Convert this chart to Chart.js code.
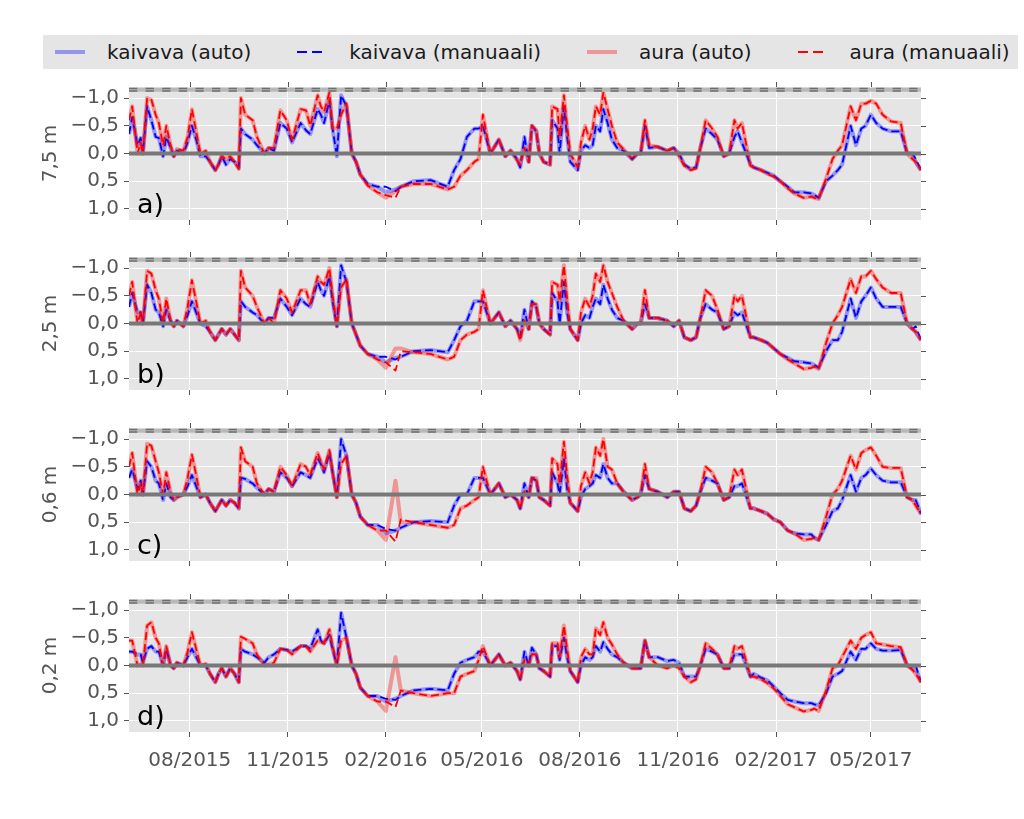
<!DOCTYPE html>
<html>
<head>
<meta charset="utf-8">
<script src="https://cdn.jsdelivr.net/npm/chart.js@4.4.1/dist/chart.umd.min.js"></script>
<style>
  body { margin: 0; background: #fff; width: 1024px; height: 819px; overflow: hidden; position: relative; font-family: "DejaVu Sans", sans-serif; }
  canvas.panel { position: absolute; left: 0; }
  #legend { position: absolute; left: 43px; top: 35px; width: 975px; height: 34px; background: #e5e5e5; display: flex; align-items: center; padding-left: 12px; box-sizing: border-box; }
  .item { display: flex; align-items: center; margin-right: 46px; }
  .swatch { width: 30px; margin-right: 22px; }
  .label { font-size: 20px; color: #1a1a1a; white-space: nowrap; }
</style>
</head>
<body>
<div id="legend"></div>
<canvas class="panel" id="p0" width="1024" height="167" style="top:70px"></canvas>
<canvas class="panel" id="p1" width="1024" height="167" style="top:240px"></canvas>
<canvas class="panel" id="p2" width="1024" height="167" style="top:411px"></canvas>
<canvas class="panel" id="p3" width="1024" height="210" style="top:582px"></canvas>
<script>
// measurement dates (shared by all panels)
const dates = [
  '2015-06-05','2015-06-08','2015-06-13','2015-06-16','2015-06-18','2015-06-22','2015-06-26','2015-06-30','2015-07-03','2015-07-07',
  '2015-07-10','2015-07-14','2015-07-17','2015-07-20','2015-07-26','2015-07-30','2015-08-03','2015-08-07','2015-08-11','2015-08-16',
  '2015-08-20','2015-08-25','2015-08-28','2015-08-31','2015-09-04','2015-09-08','2015-09-12','2015-09-16','2015-09-18','2015-09-22',
  '2015-09-29','2015-10-03','2015-10-10','2015-10-14','2015-10-19','2015-10-25','2015-10-31','2015-11-05','2015-11-13','2015-11-18',
  '2015-11-22','2015-11-29','2015-12-02','2015-12-05','2015-12-10','2015-12-13','2015-12-17','2015-12-21','2015-12-26','2015-12-31',
  '2016-01-04','2016-01-08','2016-01-15','2016-01-24','2016-02-01','2016-02-10','2016-02-15','2016-02-27','2016-03-14','2016-03-30',
  '2016-04-05','2016-04-11','2016-04-17','2016-04-24','2016-04-28','2016-05-02','2016-05-09','2016-05-17','2016-05-23','2016-05-28',
  '2016-06-03','2016-06-06','2016-06-10','2016-06-14','2016-06-17','2016-06-21','2016-06-24','2016-06-28','2016-07-04','2016-07-06',
  '2016-07-11','2016-07-13','2016-07-17','2016-07-20','2016-07-23','2016-07-30','2016-08-02','2016-08-06','2016-08-10','2016-08-13',
  '2016-08-16','2016-08-20','2016-08-23','2016-08-27','2016-08-31','2016-09-05','2016-09-11','2016-09-19','2016-09-24','2016-09-27',
  '2016-10-01','2016-10-05','2016-10-13','2016-10-22','2016-10-28','2016-11-02','2016-11-07','2016-11-13','2016-11-18','2016-11-22',
  '2016-11-27','2016-12-03','2016-12-08','2016-12-14','2016-12-19','2016-12-24','2016-12-27','2016-12-31','2017-01-08','2017-01-11',
  '2017-01-18','2017-01-24','2017-01-30','2017-02-05','2017-02-12','2017-02-18','2017-02-27','2017-03-06','2017-03-09','2017-03-13',
  '2017-03-20','2017-03-26','2017-03-31','2017-04-04','2017-04-12','2017-04-17','2017-04-22','2017-04-26','2017-05-01','2017-05-06',
  '2017-05-12','2017-05-20','2017-05-29','2017-06-04','2017-06-09','2017-06-12','2017-06-17'
];

const tickDates = ['2015-08-01','2015-11-01','2016-02-01','2016-05-01','2016-08-01','2016-11-01','2017-02-01','2017-05-01'];
const tickLabels = ['08/2015','11/2015','02/2016','05/2016','08/2016','11/2016','02/2017','05/2017'];
const yTicks = [-1, -0.5, 0, 0.5, 1];
const yTickLabels = ['\u22121,0', '\u22120,5', '0,0', '0,5', '1,0'];
const zeroLevel = 0;
const limitLevel = -1.15;

const seriesNames = ['kaivava (auto)', 'kaivava (manuaali)', 'aura (auto)', 'aura (manuaali)'];
const depthLabels = ['7,5 m', '2,5 m', '0,6 m', '0,2 m'];
const panelTags = ['a)', 'b)', 'c)', 'd)'];

// panel a) 7,5 m
const a_kaivavaAuto = [
  -0.35,-0.65,-0.15,-0.28,0.0,-0.85,-0.6,-0.3,-0.28,0.05,
  -0.3,-0.1,0.05,-0.05,0.0,-0.2,-0.5,-0.25,0.05,0.05,
  0.15,0.3,0.2,0.05,0.2,0.1,0.15,0.25,-0.45,-0.35,
  -0.25,-0.15,0.0,-0.1,-0.05,-0.55,-0.45,-0.2,-0.55,-0.42,
  -0.35,-0.8,-0.7,-0.55,-0.95,-0.45,0.05,-1.05,-0.85,0.0,
  0.15,0.38,0.55,0.6,0.7,0.65,0.6,0.5,0.48,0.6,
  0.3,0.1,-0.3,-0.45,-0.45,-0.5,0.0,-0.25,0.05,-0.05,
  0.1,0.25,-0.3,0.15,-0.5,-0.4,0.0,0.15,0.2,-0.6,
  -0.45,0.0,-0.85,-0.3,0.15,0.3,-0.05,-0.15,-0.1,-0.15,
  -0.5,-0.4,-0.8,-0.55,-0.25,-0.1,-0.05,0.1,0.0,0.0,
  -0.5,-0.1,-0.12,-0.05,-0.1,0.0,0.2,0.28,0.25,-0.1,
  -0.45,-0.35,-0.25,0.05,0.0,-0.3,-0.4,-0.2,0.2,0.25,
  0.3,0.35,0.4,0.5,0.6,0.7,0.7,0.72,0.75,0.8,
  0.5,0.4,0.3,0.2,-0.5,-0.15,-0.45,-0.5,-0.7,-0.55,
  -0.45,-0.4,-0.4,0.0,0.0,0.15,0.3
];
const a_kaivavaMan = [
  -0.35,-0.65,-0.15,-0.28,0.0,-0.85,-0.6,-0.3,-0.28,0.05,
  -0.3,-0.1,0.05,-0.05,0.0,-0.2,-0.5,-0.25,0.05,0.05,
  0.15,0.3,0.2,0.05,0.2,0.1,0.15,0.25,-0.45,-0.35,
  -0.25,-0.15,0.0,-0.1,-0.05,-0.55,-0.45,-0.2,-0.55,-0.42,
  -0.35,-0.8,-0.7,-0.55,-0.95,-0.45,0.05,-1.05,-0.85,0.0,
  0.15,0.38,0.55,0.6,0.6,0.68,0.6,0.5,0.48,0.6,
  0.3,0.1,-0.3,-0.45,-0.45,-0.5,0.0,-0.25,0.05,-0.05,
  0.1,0.25,-0.3,0.15,-0.5,-0.4,0.0,0.15,0.2,-0.6,
  -0.45,0.0,-0.85,-0.3,0.15,0.3,-0.05,-0.15,-0.1,-0.15,
  -0.5,-0.4,-0.8,-0.55,-0.25,-0.1,-0.05,0.1,0.0,0.0,
  -0.5,-0.1,-0.12,-0.05,-0.1,0.0,0.2,0.28,0.25,-0.1,
  -0.45,-0.35,-0.25,0.05,0.0,-0.3,-0.4,-0.2,0.2,0.25,
  0.3,0.35,0.4,0.5,0.6,0.7,0.7,0.72,0.75,0.8,
  0.5,0.4,0.3,0.2,-0.5,-0.15,-0.45,-0.5,-0.7,-0.55,
  -0.45,-0.4,-0.4,0.0,0.0,0.1,0.3
];
const a_auraAuto = [
  -0.6,-0.85,0.0,-0.2,0.0,-1.0,-0.97,-0.7,-0.55,-0.15,
  -0.5,-0.15,0.05,-0.08,-0.05,-0.3,-0.8,-0.4,0.0,-0.05,
  0.15,0.3,0.2,0.05,0.1,0.05,0.15,0.28,-1.0,-0.7,
  -0.6,-0.3,0.0,-0.1,-0.1,-0.78,-0.6,-0.25,-0.8,-0.78,
  -0.5,-1.05,-0.85,-0.75,-1.1,-0.45,-0.45,-0.7,-0.9,0.0,
  0.15,0.38,0.58,0.7,0.8,0.68,0.6,0.55,0.55,0.65,
  0.6,0.4,0.3,0.15,0.1,-0.7,0.0,-0.25,0.05,-0.05,
  0.12,0.2,-0.1,0.15,-0.5,-0.42,0.0,0.15,0.2,-0.85,
  -0.8,-0.3,-1.05,-0.5,0.0,0.25,-0.2,-0.5,-0.25,-0.45,
  -0.85,-0.7,-1.1,-0.8,-0.5,-0.2,-0.08,0.1,0.0,0.0,
  -0.6,-0.15,-0.12,-0.05,-0.1,0.05,0.22,0.3,0.27,-0.1,
  -0.6,-0.45,-0.3,0.05,0.0,-0.6,-0.45,-0.55,0.22,0.25,
  0.3,0.37,0.42,0.5,0.63,0.72,0.8,0.78,0.8,0.82,
  0.45,0.1,-0.05,-0.15,-0.85,-0.6,-0.9,-0.9,-0.95,-0.9,
  -0.7,-0.58,-0.55,0.0,0.1,0.15,0.3
];
const a_auraMan = [
  -0.6,-0.85,0.0,-0.2,0.0,-1.0,-0.97,-0.7,-0.55,-0.15,
  -0.5,-0.15,0.05,-0.08,-0.05,-0.3,-0.8,-0.4,0.0,-0.05,
  0.15,0.3,0.2,0.05,0.1,0.05,0.15,0.28,-1.0,-0.7,
  -0.6,-0.3,0.0,-0.1,-0.1,-0.78,-0.6,-0.25,-0.8,-0.78,
  -0.5,-1.05,-0.85,-0.75,-1.1,-0.45,-0.45,-0.7,-0.9,0.0,
  0.15,0.38,0.58,0.7,0.75,0.8,0.6,0.55,0.55,0.65,
  0.6,0.4,0.3,0.15,0.1,-0.7,0.0,-0.25,0.05,-0.05,
  0.12,0.2,-0.1,0.15,-0.5,-0.42,0.0,0.15,0.2,-0.85,
  -0.8,-0.3,-1.05,-0.5,0.0,0.25,-0.2,-0.5,-0.25,-0.45,
  -0.85,-0.7,-1.1,-0.8,-0.5,-0.2,-0.08,0.1,0.0,0.0,
  -0.6,-0.15,-0.12,-0.05,-0.1,0.05,0.22,0.3,0.27,-0.1,
  -0.6,-0.45,-0.3,0.05,0.0,-0.6,-0.45,-0.55,0.22,0.25,
  0.3,0.37,0.42,0.5,0.63,0.72,0.8,0.78,0.8,0.82,
  0.45,0.1,-0.05,-0.15,-0.85,-0.6,-0.9,-0.9,-0.95,-0.9,
  -0.7,-0.58,-0.55,0.0,0.1,0.15,0.3
];

// panel b) 2,5 m
const b_kaivavaAuto = [
  -0.3,-0.55,-0.2,-0.2,0.0,-0.7,-0.55,-0.25,-0.2,0.05,
  -0.25,-0.05,0.05,-0.05,0.05,-0.15,-0.4,-0.2,0.0,0.05,
  0.15,0.3,0.2,0.1,0.2,0.1,0.2,0.3,-0.4,-0.3,
  -0.2,-0.15,0.0,-0.1,-0.1,-0.45,-0.3,-0.15,-0.45,-0.35,
  -0.3,-0.75,-0.6,-0.5,-0.85,-0.4,0.05,-1.05,-0.75,0.0,
  0.2,0.4,0.55,0.6,0.7,0.62,0.6,0.5,0.48,0.52,
  0.3,0.05,-0.05,-0.4,-0.4,-0.4,0.0,-0.2,0.05,-0.05,
  0.1,0.25,-0.25,0.1,-0.4,-0.3,0.0,0.1,0.2,-0.55,
  -0.4,0.0,-0.75,-0.2,0.1,0.3,0.0,-0.15,-0.1,-0.3,
  -0.45,-0.35,-0.7,-0.45,-0.25,-0.1,-0.05,0.1,0.0,0.0,
  -0.35,-0.1,-0.1,-0.05,0.05,-0.05,0.25,0.3,0.25,-0.1,
  -0.35,-0.25,-0.2,0.1,0.05,-0.2,-0.15,-0.2,0.25,0.25,
  0.3,0.35,0.45,0.55,0.62,0.68,0.7,0.72,0.75,0.8,
  0.5,0.3,0.3,0.15,-0.45,-0.1,-0.4,-0.5,-0.65,-0.45,
  -0.3,-0.3,-0.3,0.0,0.1,0.15,0.3
];
const b_kaivavaMan = [
  -0.3,-0.55,-0.2,-0.2,0.0,-0.7,-0.55,-0.25,-0.2,0.05,
  -0.25,-0.05,0.05,-0.05,0.05,-0.15,-0.4,-0.2,0.0,0.05,
  0.15,0.3,0.2,0.1,0.2,0.1,0.2,0.3,-0.4,-0.3,
  -0.2,-0.15,0.0,-0.1,-0.1,-0.45,-0.3,-0.15,-0.45,-0.35,
  -0.3,-0.75,-0.6,-0.5,-0.85,-0.4,0.05,-1.05,-0.75,0.0,
  0.2,0.4,0.55,0.6,0.6,0.65,0.6,0.5,0.48,0.52,
  0.3,0.05,-0.05,-0.4,-0.4,-0.4,0.0,-0.2,0.05,-0.05,
  0.1,0.25,-0.25,0.1,-0.4,-0.3,0.0,0.1,0.2,-0.55,
  -0.4,0.0,-0.75,-0.2,0.1,0.3,0.0,-0.15,-0.1,-0.3,
  -0.45,-0.35,-0.7,-0.45,-0.25,-0.1,-0.05,0.1,0.0,0.0,
  -0.35,-0.1,-0.1,-0.05,0.05,-0.05,0.25,0.3,0.25,-0.1,
  -0.35,-0.25,-0.2,0.1,0.05,-0.2,-0.15,-0.2,0.25,0.25,
  0.3,0.35,0.45,0.55,0.62,0.68,0.7,0.72,0.75,0.8,
  0.5,0.3,0.3,0.15,-0.45,-0.1,-0.4,-0.5,-0.65,-0.45,
  -0.3,-0.3,-0.3,0.0,0.1,0.05,0.3
];
const b_auraAuto = [
  -0.5,-0.75,0.0,-0.2,0.0,-0.95,-0.9,-0.6,-0.45,0.0,
  -0.45,-0.05,0.05,-0.05,0.05,-0.3,-0.78,-0.4,0.0,-0.05,
  0.15,0.3,0.2,0.1,0.2,0.1,0.2,0.3,-0.95,-0.65,
  -0.5,-0.3,0.0,-0.1,0.0,-0.6,-0.45,-0.2,-0.6,-0.6,
  -0.35,-0.85,-0.75,-0.7,-1.0,-0.5,0.05,-0.65,-0.8,0.0,
  0.2,0.4,0.55,0.65,0.8,0.45,0.45,0.52,0.55,0.65,
  0.6,0.3,0.2,0.15,0.1,-0.6,0.0,-0.2,0.05,-0.05,
  0.1,0.3,-0.05,0.1,-0.35,-0.35,0.0,0.1,0.2,-0.75,
  -0.7,-0.4,-1.05,-0.45,0.1,0.3,-0.2,-0.45,-0.3,-0.5,
  -0.9,-0.75,-1.05,-0.75,-0.55,-0.3,-0.05,0.1,0.0,0.0,
  -0.6,-0.1,-0.1,-0.05,0.05,-0.05,0.25,0.3,0.25,-0.1,
  -0.6,-0.5,-0.25,0.1,0.05,-0.5,-0.4,-0.5,0.25,0.25,
  0.3,0.35,0.45,0.55,0.65,0.72,0.82,0.8,0.78,0.82,
  0.35,0.0,-0.15,-0.3,-0.8,-0.55,-0.85,-0.85,-0.95,-0.8,
  -0.65,-0.55,-0.55,0.0,0.1,0.15,0.3
];
const b_auraMan = [
  -0.5,-0.75,0.0,-0.2,0.0,-0.95,-0.9,-0.6,-0.45,0.0,
  -0.45,-0.05,0.05,-0.05,0.05,-0.3,-0.78,-0.4,0.0,-0.05,
  0.15,0.3,0.2,0.1,0.2,0.1,0.2,0.3,-0.95,-0.65,
  -0.5,-0.3,0.0,-0.1,0.0,-0.6,-0.45,-0.2,-0.6,-0.6,
  -0.35,-0.85,-0.75,-0.7,-1.0,-0.5,0.05,-0.65,-0.8,0.0,
  0.2,0.4,0.55,0.65,0.7,0.85,0.5,0.52,0.55,0.65,
  0.6,0.3,0.2,0.15,0.1,-0.6,0.0,-0.2,0.05,-0.05,
  0.1,0.3,-0.05,0.1,-0.35,-0.35,0.0,0.1,0.2,-0.75,
  -0.7,-0.4,-1.05,-0.45,0.1,0.3,-0.2,-0.45,-0.3,-0.5,
  -0.9,-0.75,-1.05,-0.75,-0.55,-0.3,-0.05,0.1,0.0,0.0,
  -0.6,-0.1,-0.1,-0.05,0.05,-0.05,0.25,0.3,0.25,-0.1,
  -0.6,-0.5,-0.25,0.1,0.05,-0.5,-0.4,-0.5,0.25,0.25,
  0.3,0.35,0.45,0.55,0.65,0.72,0.82,0.8,0.78,0.82,
  0.35,0.0,-0.15,-0.3,-0.8,-0.55,-0.85,-0.85,-0.95,-0.8,
  -0.65,-0.55,-0.55,0.0,0.1,0.15,0.3
];

// panel c) 0,6 m
const c_kaivavaAuto = [
  -0.3,-0.45,-0.1,-0.25,0.0,-0.6,-0.5,-0.25,-0.2,0.1,
  -0.2,0.05,0.1,0.05,0.0,-0.15,-0.35,-0.15,0.05,0.0,
  0.15,0.3,0.2,0.1,0.2,0.1,0.15,0.25,-0.3,-0.28,
  -0.2,-0.12,0.0,-0.1,-0.05,-0.4,-0.3,-0.15,-0.4,-0.35,
  -0.3,-0.65,-0.55,-0.4,-0.75,-0.4,0.05,-1.0,-0.7,0.0,
  0.15,0.4,0.55,0.55,0.7,0.65,0.6,0.5,0.48,0.5,
  0.2,0.0,0.0,-0.3,-0.3,-0.3,0.0,-0.2,0.05,0.0,
  0.1,0.25,-0.2,0.05,-0.3,-0.25,0.05,0.1,0.2,-0.4,
  -0.2,0.0,-0.65,-0.1,0.15,0.3,0.05,-0.1,-0.15,-0.2,
  -0.35,-0.3,-0.55,-0.3,-0.2,-0.2,-0.05,0.1,0.05,0.0,
  -0.35,-0.1,-0.05,0.05,-0.05,-0.05,0.25,0.3,0.2,-0.05,
  -0.3,-0.25,-0.2,0.1,0.05,-0.15,-0.15,-0.2,0.25,0.25,
  0.3,0.35,0.45,0.5,0.65,0.7,0.72,0.72,0.78,0.82,
  0.55,0.3,0.25,0.1,-0.35,-0.05,-0.3,-0.35,-0.47,-0.35,
  -0.25,-0.22,-0.22,0.05,0.1,0.1,0.35
];
const c_kaivavaMan = [
  -0.3,-0.45,-0.1,-0.25,0.0,-0.6,-0.5,-0.25,-0.2,0.1,
  -0.2,0.05,0.1,0.05,0.0,-0.15,-0.35,-0.15,0.05,0.0,
  0.15,0.3,0.2,0.1,0.2,0.1,0.15,0.25,-0.3,-0.28,
  -0.2,-0.12,0.0,-0.1,-0.05,-0.4,-0.3,-0.15,-0.4,-0.35,
  -0.3,-0.65,-0.55,-0.4,-0.75,-0.4,0.05,-1.0,-0.7,0.0,
  0.15,0.4,0.55,0.55,0.62,0.65,0.6,0.5,0.48,0.5,
  0.2,0.0,0.0,-0.3,-0.3,-0.3,0.0,-0.2,0.05,0.0,
  0.1,0.25,-0.2,0.05,-0.3,-0.25,0.05,0.1,0.2,-0.4,
  -0.2,0.0,-0.65,-0.1,0.15,0.3,0.05,-0.1,-0.15,-0.2,
  -0.35,-0.3,-0.55,-0.3,-0.2,-0.2,-0.05,0.1,0.05,0.0,
  -0.35,-0.1,-0.05,0.05,-0.05,-0.05,0.25,0.3,0.2,-0.05,
  -0.3,-0.25,-0.2,0.1,0.05,-0.15,-0.15,-0.2,0.25,0.25,
  0.3,0.35,0.45,0.5,0.65,0.7,0.72,0.72,0.78,0.82,
  0.55,0.3,0.25,0.1,-0.35,-0.05,-0.3,-0.35,-0.47,-0.35,
  -0.25,-0.22,-0.22,0.05,0.1,0.1,0.35
];
const c_auraAuto = [
  -0.5,-0.75,0.0,-0.2,0.0,-0.92,-0.88,-0.6,-0.4,0.0,
  -0.4,-0.05,0.1,0.05,0.0,-0.3,-0.72,-0.35,0.05,0.0,
  0.15,0.3,0.2,0.1,0.2,0.1,0.15,0.25,-0.85,-0.6,
  -0.5,-0.2,0.0,-0.1,-0.05,-0.5,-0.35,-0.15,-0.55,-0.5,
  -0.35,-0.75,-0.6,-0.45,-0.8,-0.4,0.05,-0.55,-0.7,0.0,
  0.15,0.4,0.55,0.65,0.82,-0.25,0.5,0.5,0.55,0.6,
  0.55,0.25,0.2,0.1,0.05,-0.5,0.0,-0.2,0.05,0.0,
  0.1,0.25,-0.05,0.05,-0.3,-0.3,0.05,0.1,0.2,-0.65,
  -0.55,-0.2,-0.95,-0.35,0.15,0.3,-0.15,-0.4,-0.2,-0.4,
  -0.85,-0.7,-1.0,-0.5,-0.45,-0.2,-0.05,0.1,0.05,0.0,
  -0.55,-0.1,-0.05,0.05,-0.05,-0.05,0.25,0.3,0.2,-0.05,
  -0.5,-0.4,-0.2,0.1,0.05,-0.45,-0.35,-0.45,0.25,0.25,
  0.3,0.35,0.45,0.5,0.65,0.7,0.82,0.8,0.78,0.82,
  0.4,0.0,-0.1,-0.25,-0.7,-0.45,-0.75,-0.8,-0.85,-0.7,
  -0.5,-0.48,-0.48,0.05,0.1,0.2,0.35
];
const c_auraMan = [
  -0.5,-0.75,0.0,-0.2,0.0,-0.92,-0.88,-0.6,-0.4,0.0,
  -0.4,-0.05,0.1,0.05,0.0,-0.3,-0.72,-0.35,0.05,0.0,
  0.15,0.3,0.2,0.1,0.2,0.1,0.15,0.25,-0.85,-0.6,
  -0.5,-0.2,0.0,-0.1,-0.05,-0.5,-0.35,-0.15,-0.55,-0.5,
  -0.35,-0.75,-0.6,-0.45,-0.8,-0.4,0.05,-0.55,-0.7,0.0,
  0.15,0.4,0.55,0.65,0.65,0.85,0.45,0.5,0.55,0.6,
  0.55,0.25,0.2,0.1,0.05,-0.5,0.0,-0.2,0.05,0.0,
  0.1,0.25,-0.05,0.05,-0.3,-0.3,0.05,0.1,0.2,-0.65,
  -0.55,-0.2,-0.95,-0.35,0.15,0.3,-0.15,-0.4,-0.2,-0.4,
  -0.85,-0.7,-1.0,-0.5,-0.45,-0.2,-0.05,0.1,0.05,0.0,
  -0.55,-0.1,-0.05,0.05,-0.05,-0.05,0.25,0.3,0.2,-0.05,
  -0.5,-0.4,-0.2,0.1,0.05,-0.45,-0.35,-0.45,0.25,0.25,
  0.3,0.35,0.45,0.5,0.65,0.7,0.82,0.8,0.78,0.82,
  0.4,0.0,-0.1,-0.25,-0.7,-0.45,-0.75,-0.8,-0.85,-0.7,
  -0.5,-0.48,-0.48,0.05,0.1,0.2,0.35
];

// panel d) 0,2 m
const d_kaivavaAuto = [
  -0.25,-0.25,-0.2,-0.2,-0.05,-0.3,-0.35,-0.25,-0.25,0.0,
  -0.3,0.0,0.05,-0.05,0.0,-0.15,-0.3,-0.15,0.0,0.0,
  0.15,0.3,0.15,0.05,0.2,0.05,0.15,0.3,-0.3,-0.25,
  -0.2,-0.15,-0.05,-0.15,-0.2,-0.3,-0.28,-0.25,-0.35,-0.35,
  -0.3,-0.65,-0.45,-0.4,-0.55,-0.3,0.0,-0.95,-0.5,0.0,
  0.15,0.4,0.55,0.55,0.65,0.6,0.55,0.45,0.42,0.45,
  0.15,-0.05,-0.1,-0.15,-0.25,-0.25,0.0,-0.2,0.0,-0.05,
  0.1,0.25,-0.25,0.0,-0.32,-0.2,0.05,0.1,0.2,-0.35,
  -0.35,-0.1,-0.5,-0.15,0.1,0.3,0.0,-0.15,-0.1,-0.15,
  -0.35,-0.25,-0.42,-0.3,-0.2,-0.15,-0.05,0.05,0.05,0.05,
  -0.45,-0.15,-0.15,-0.08,-0.1,-0.05,0.2,0.2,0.2,0.0,
  -0.3,-0.25,-0.2,0.05,0.05,-0.2,-0.2,-0.2,0.2,0.15,
  0.22,0.27,0.38,0.5,0.62,0.65,0.68,0.68,0.7,0.72,
  0.5,0.2,0.15,0.1,-0.25,-0.1,-0.3,-0.3,-0.4,-0.3,
  -0.27,-0.27,-0.28,0.0,0.05,0.05,0.3
];
const d_kaivavaMan = [
  -0.25,-0.25,-0.2,-0.2,-0.05,-0.3,-0.35,-0.25,-0.25,0.0,
  -0.3,0.0,0.05,-0.05,0.0,-0.15,-0.3,-0.15,0.0,0.0,
  0.15,0.3,0.15,0.05,0.2,0.05,0.15,0.3,-0.3,-0.25,
  -0.2,-0.15,-0.05,-0.15,-0.2,-0.3,-0.28,-0.25,-0.35,-0.35,
  -0.3,-0.65,-0.45,-0.4,-0.55,-0.3,0.0,-0.95,-0.5,0.0,
  0.15,0.4,0.55,0.55,0.6,0.62,0.55,0.45,0.42,0.45,
  0.15,-0.05,-0.1,-0.15,-0.25,-0.25,0.0,-0.2,0.0,-0.05,
  0.1,0.25,-0.25,0.0,-0.32,-0.2,0.05,0.1,0.2,-0.35,
  -0.35,-0.1,-0.5,-0.15,0.1,0.3,0.0,-0.15,-0.1,-0.15,
  -0.35,-0.25,-0.42,-0.3,-0.2,-0.15,-0.05,0.05,0.05,0.05,
  -0.45,-0.15,-0.15,-0.08,-0.1,-0.05,0.2,0.2,0.2,0.0,
  -0.3,-0.25,-0.2,0.05,0.05,-0.2,-0.2,-0.2,0.2,0.15,
  0.22,0.27,0.38,0.5,0.62,0.65,0.68,0.68,0.7,0.72,
  0.5,0.2,0.15,0.1,-0.25,-0.1,-0.3,-0.3,-0.4,-0.3,
  -0.27,-0.27,-0.28,0.0,0.05,0.0,0.3
];
const d_auraAuto = [
  -0.45,-0.45,0.0,-0.02,0.0,-0.72,-0.78,-0.5,-0.4,0.0,
  -0.35,0.0,0.05,-0.05,0.0,-0.25,-0.6,-0.3,0.0,-0.03,
  0.15,0.3,0.15,0.05,0.2,0.05,0.15,0.3,-0.52,-0.48,
  -0.4,-0.2,0.0,-0.02,-0.05,-0.3,-0.28,-0.2,-0.35,-0.35,
  -0.25,-0.45,-0.42,-0.4,-0.65,-0.35,0.0,-0.45,-0.5,0.0,
  0.15,0.4,0.55,0.65,0.82,-0.15,0.45,0.5,0.55,0.5,
  0.5,0.2,0.15,0.1,-0.1,-0.35,0.0,-0.2,0.0,-0.05,
  0.1,0.25,-0.1,0.0,-0.2,-0.2,0.05,0.1,0.2,-0.4,
  -0.4,-0.15,-0.72,-0.3,0.1,0.3,-0.15,-0.3,-0.2,-0.2,
  -0.67,-0.55,-0.78,-0.5,-0.38,-0.2,-0.05,0.05,0.05,0.05,
  -0.45,-0.15,0.0,0.05,0.0,0.05,0.2,0.3,0.25,0.0,
  -0.4,-0.3,-0.2,0.05,0.05,-0.35,-0.3,-0.35,0.2,0.2,
  0.25,0.32,0.42,0.55,0.7,0.75,0.83,0.8,0.78,0.82,
  0.45,0.05,0.0,-0.15,-0.45,-0.3,-0.5,-0.55,-0.6,-0.4,
  -0.38,-0.35,-0.33,0.0,0.08,0.15,0.3
];
const d_auraMan = [
  -0.45,-0.45,0.0,-0.02,0.0,-0.72,-0.78,-0.5,-0.4,0.0,
  -0.35,0.0,0.05,-0.05,0.0,-0.25,-0.6,-0.3,0.0,-0.03,
  0.15,0.3,0.15,0.05,0.2,0.05,0.15,0.3,-0.52,-0.48,
  -0.4,-0.2,0.0,-0.02,-0.05,-0.3,-0.28,-0.2,-0.35,-0.35,
  -0.25,-0.45,-0.42,-0.4,-0.65,-0.35,0.0,-0.45,-0.5,0.0,
  0.15,0.4,0.55,0.65,0.65,0.75,0.45,0.5,0.55,0.5,
  0.5,0.2,0.15,0.1,-0.1,-0.35,0.0,-0.2,0.0,-0.05,
  0.1,0.25,-0.1,0.0,-0.2,-0.2,0.05,0.1,0.2,-0.4,
  -0.4,-0.15,-0.72,-0.3,0.1,0.3,-0.15,-0.3,-0.2,-0.2,
  -0.67,-0.55,-0.78,-0.5,-0.38,-0.2,-0.05,0.05,0.05,0.05,
  -0.45,-0.15,0.0,0.05,0.0,0.05,0.2,0.3,0.25,0.0,
  -0.4,-0.3,-0.2,0.05,0.05,-0.35,-0.3,-0.35,0.2,0.2,
  0.25,0.32,0.42,0.55,0.7,0.75,0.83,0.8,0.78,0.82,
  0.45,0.05,0.0,-0.15,-0.45,-0.3,-0.5,-0.55,-0.6,-0.4,
  -0.38,-0.35,-0.33,0.0,0.08,0.15,0.3
];

const panelSeries = [
  [a_kaivavaAuto, a_kaivavaMan, a_auraAuto, a_auraMan],
  [b_kaivavaAuto, b_kaivavaMan, b_auraAuto, b_auraMan],
  [c_kaivavaAuto, c_kaivavaMan, c_auraAuto, c_auraMan],
  [d_kaivavaAuto, d_kaivavaMan, d_auraAuto, d_auraMan]
];

// line styles, same order as seriesNames
const styles = [
  { color: 'rgba(0,0,255,0.35)', width: 4, dash: [] },
  { color: '#0000ff', width: 1.8, dash: [8, 4] },
  { color: 'rgba(255,0,0,0.35)', width: 4, dash: [] },
  { color: '#ff0000', width: 1.8, dash: [8, 4] }
];

const FONT = '"DejaVu Sans", sans-serif';
const xs = dates.map(d => Date.parse(d));
const tickXs = tickDates.map(d => Date.parse(d));

// legend
const legend = document.getElementById('legend');
seriesNames.forEach((name, i) => {
  const st = styles[i];
  const item = document.createElement('div');
  item.className = 'item';
  const sw = document.createElement('div');
  sw.className = 'swatch';
  if (st.dash.length) {
    sw.style.height = '2px';
    sw.style.background = `repeating-linear-gradient(90deg, ${st.color} 0 10px, transparent 10px 15px)`;
  } else {
    sw.style.height = '4px';
    sw.style.background = st.color;
  }
  const lb = document.createElement('span');
  lb.className = 'label';
  lb.textContent = name;
  item.appendChild(sw);
  item.appendChild(lb);
  legend.appendChild(item);
});

function hline(ctx, x0, x1, y, color, width, dash) {
  ctx.beginPath();
  ctx.setLineDash(dash);
  ctx.strokeStyle = color;
  ctx.lineWidth = width;
  ctx.moveTo(x0, y);
  ctx.lineTo(x1, y);
  ctx.stroke();
}

// plot background, zero line, limit line, top/right ticks and panel letter
const panelDecor = {
  id: 'panelDecor',
  beforeDraw(chart) {
    const { ctx, chartArea: a } = chart;
    ctx.save();
    ctx.fillStyle = '#e5e5e5';
    ctx.fillRect(a.left, a.top, a.right - a.left, a.bottom - a.top);
    ctx.restore();
  },
  afterDatasetsDraw(chart, args, opts) {
    const { ctx, chartArea: a, scales: { x, y } } = chart;
    ctx.save();
    ctx.beginPath();
    ctx.rect(a.left, a.top, a.right - a.left, a.bottom - a.top);
    ctx.clip();
    const y0 = y.getPixelForValue(zeroLevel);
    hline(ctx, a.left, a.right, y0, '#787878', 4, []);
    const yl = y.getPixelForValue(limitLevel);
    hline(ctx, a.left, a.right, yl, '#b9b9b9', 4, []);
    hline(ctx, a.left, a.right, yl, '#6e6e6e', 4, [8.3, 8.3]);
    hline(ctx, a.left, a.right, yl, '#b9b9b9', 1, []);
    ctx.restore();

    ctx.save();
    ctx.strokeStyle = '#555';
    ctx.lineWidth = 1;
    ctx.beginPath();
    x.ticks.forEach(t => {
      const px = Math.round(x.getPixelForValue(t.value)) + 0.5;
      ctx.moveTo(px, a.top);
      ctx.lineTo(px, a.top - 5);
    });
    y.ticks.forEach(t => {
      const py = Math.round(y.getPixelForValue(t.value)) + 0.5;
      ctx.moveTo(a.right, py);
      ctx.lineTo(a.right + 5, py);
    });
    ctx.stroke();

    ctx.fillStyle = '#000';
    ctx.font = '27px ' + FONT;
    ctx.textBaseline = 'alphabetic';
    ctx.fillText(opts.tag, a.left + 8, a.bottom - 7);
    ctx.restore();
  }
};

panelSeries.forEach((series, p) => {
  const last = p === panelSeries.length - 1;
  const datasets = series.map((vals, i) => ({
    label: seriesNames[i],
    data: vals.map((v, k) => ({ x: xs[k], y: v })),
    borderColor: styles[i].color,
    borderWidth: styles[i].width,
    borderDash: styles[i].dash,
    borderJoinStyle: 'round',
    pointRadius: 0,
    tension: 0,
    fill: false,
    order: 4 - i
  }));

  new Chart(document.getElementById('p' + p), {
    type: 'line',
    data: { datasets },
    plugins: [panelDecor],
    options: {
      responsive: false,
      animation: false,
      devicePixelRatio: 1,
      layout: { padding: { left: 0, right: 103, top: 12, bottom: 0 } },
      plugins: {
        legend: { display: false },
        tooltip: { enabled: false },
        panelDecor: { tag: panelTags[p] }
      },
      scales: {
        x: {
          type: 'linear',
          min: xs[0],
          max: xs[xs.length - 1],
          afterBuildTicks: s => { s.ticks = tickXs.map(v => ({ value: v })); },
          afterFit: s => { s.height = last ? 60 : 12; },
          grid: { color: '#ffffff', lineWidth: 1, tickColor: '#555', tickLength: 5 },
          border: { display: false },
          ticks: {
            display: last,
            autoSkip: false,
            maxRotation: 0,
            color: '#555',
            padding: 12,
            font: { family: FONT, size: 20 },
            callback: (v, i) => tickLabels[i]
          }
        },
        y: {
          reverse: true,
          min: -1.2,
          max: 1.2,
          afterBuildTicks: s => { s.ticks = yTicks.map(v => ({ value: v })); },
          afterFit: s => { s.width = 129; },
          grid: { color: '#ffffff', lineWidth: 1, tickColor: '#555', tickLength: 5 },
          border: { display: false },
          ticks: {
            color: '#555',
            padding: 5,
            font: { family: FONT, size: 20 },
            callback: (v, i) => yTickLabels[i]
          },
          title: {
            display: true,
            text: depthLabels[p],
            color: '#555',
            font: { family: FONT, size: 20 },
            padding: { top: 39, bottom: 0 }
          }
        }
      }
    }
  });
});
</script>
</body>
</html>
